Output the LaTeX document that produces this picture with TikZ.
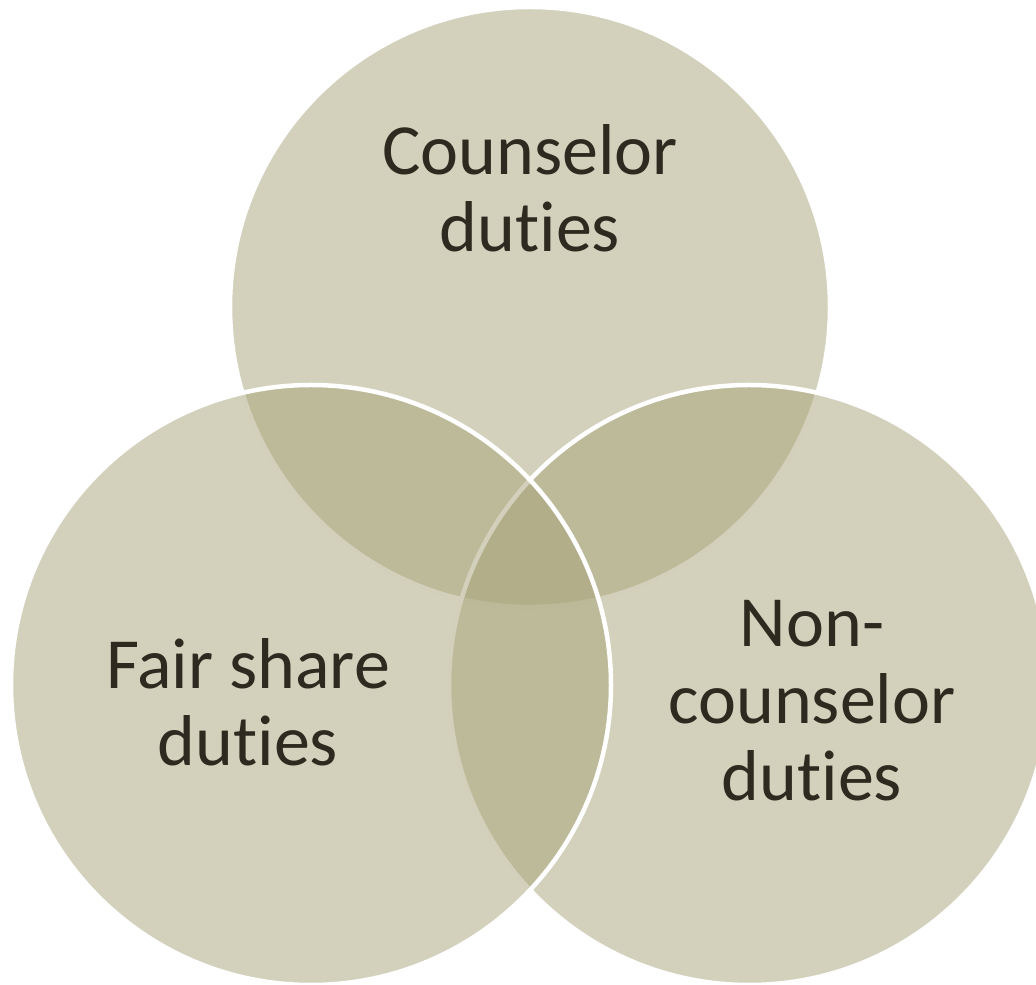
\documentclass[tikz,border=0pt]{standalone}
\usepackage{fontspec}
\setmainfont{Carlito}[RawFeature={-liga}]
\definecolor{vennfill}{RGB}{167,163,121}
\definecolor{venntext}{RGB}{47,42,32}
\tikzset{
  venn/.style={fill=vennfill, fill opacity=0.5, draw=white, line width=4.5pt},
  vennlabel/.style={text=venntext, align=center, inner sep=0pt,
    font=\fontsize{72}{77}\selectfont}
}
\begin{document}
\begin{tikzpicture}[x=1pt,y=1pt]
  \useasboundingbox (0,0) rectangle (1036,985);
  \path[venn] (530,678) circle[radius=300];
  \path[venn] (749,300) circle[radius=300];
  \path[venn] (311,300) circle[radius=300];
  \node[vennlabel] (counselor) at (530,797) {Counselor\\duties};
  \node[vennlabel] (fair) at (248,283) {Fair share\\duties};
  \node[vennlabel] (non) at (812,284) {Non-\\counselor\\duties};
\end{tikzpicture}
\end{document}
